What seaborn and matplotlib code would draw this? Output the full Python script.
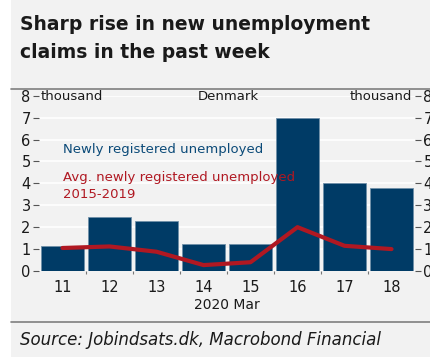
import matplotlib
matplotlib.use("Agg")
import matplotlib.pyplot as plt
import seaborn as sns
import pandas as pd
from matplotlib.patches import Rectangle

weeks = ["11", "12", "13", "14", "15", "16", "17", "18"]
newly_registered = [1.15, 2.47, 2.30, 1.25, 1.25, 7.00, 4.02, 3.77]
avg_2015_2019 = [1.05, 1.12, 0.88, 0.27, 0.40, 2.00, 1.15, 1.00]

df = pd.DataFrame({"week": weeks, "new": newly_registered, "avg": avg_2015_2019})

sns.set_style("white")
plt.rcParams['font.family'] = ['DejaVu Sans']

BG = "#f2f2f2"
BAR = "#003b66"
RED = "#b01822"
TXT = "#1a1a1a"

W, H = 431, 357
fig = plt.figure(figsize=(W / 100, H / 100), dpi=100, facecolor="white")
fig.patches.append(Rectangle((11 / W, 0), 1 - 11 / W, 1, transform=fig.transFigure,
                             facecolor=BG, edgecolor="none", zorder=-10))

def fx(px):
    return px / W

def fy(py):
    return 1 - py / H

ax_l, ax_r, ax_t, ax_b = 39, 415, 95.7, 271
ax = fig.add_axes([fx(ax_l), fy(ax_b), fx(ax_r - ax_l), (ax_b - ax_t) / H])
ax.set_facecolor(BG)

sns.barplot(data=df, x="week", y="new", color=BAR, width=0.9, saturation=1,
            edgecolor="#6f8fa8", linewidth=0.6, ax=ax, zorder=3)
sns.lineplot(x=list(range(len(weeks))), y=avg_2015_2019, color=RED, linewidth=3,
             ax=ax, zorder=4)

ax.set_xlim(-0.5, 7.5)
ax.set_ylim(0, 8)
ax.set_yticks(range(0, 9))
ax.grid(axis="y", color="white", linewidth=1.2, zorder=0)
ax.set_axisbelow(True)
for s in ax.spines.values():
    s.set_visible(False)
ax.tick_params(axis="y", left=True, right=True, labelleft=True, labelright=True,
               length=4, width=0.8, color="#555555", labelsize=10.5, labelcolor=TXT, pad=2)
ax.tick_params(axis="x", bottom=False, labelsize=10.5, labelcolor=TXT, pad=3)
ax.set_xticks([i - 0.5 for i in range(1, 8)], minor=True)
ax.tick_params(axis="x", which="minor", bottom=True, length=2, width=0.8, color="#777777")
ax.set_xlabel("2020 Mar", fontsize=10, color=TXT, labelpad=2)
ax.set_ylabel("")

# header texts
fig.text(fx(41), fy(96), "thousand", fontsize=9.5, color=TXT, ha="left", va="center")
fig.text(fx(228), fy(96), "Denmark", fontsize=9.5, color=TXT, ha="center", va="center")
fig.text(fx(412), fy(96), "thousand", fontsize=9.5, color=TXT, ha="right", va="center")

# legend texts
fig.text(fx(63), fy(149), "Newly registered unemployed", fontsize=9.5, color="#0b4a78",
         ha="left", va="center")
fig.text(fx(63), fy(178), "Avg. newly registered unemployed", fontsize=9.5, color=RED,
         ha="left", va="center")
fig.text(fx(63), fy(195), "2015-2019", fontsize=9.5, color=RED, ha="left", va="center")

# title
fig.text(fx(20), fy(25), "Sharp rise in new unemployment", fontsize=13.5, fontweight="bold",
         color=TXT, ha="left", va="center")
fig.text(fx(20), fy(53), "claims in the past week", fontsize=13.5, fontweight="bold",
         color=TXT, ha="left", va="center")

# separator lines
fig.add_artist(plt.Line2D([fx(11), 1], [fy(89), fy(89)], color="#7f7f7f", linewidth=1.2))
fig.add_artist(plt.Line2D([fx(11), 1], [fy(322), fy(322)], color="#7f7f7f", linewidth=1.2))

fig.text(fx(20), fy(340), "Source: Jobindsats.dk, Macrobond Financial", fontsize=12,
         fontstyle="italic", color=TXT, ha="left", va="center")

fig.savefig("out.png", dpi=100, facecolor="white")
